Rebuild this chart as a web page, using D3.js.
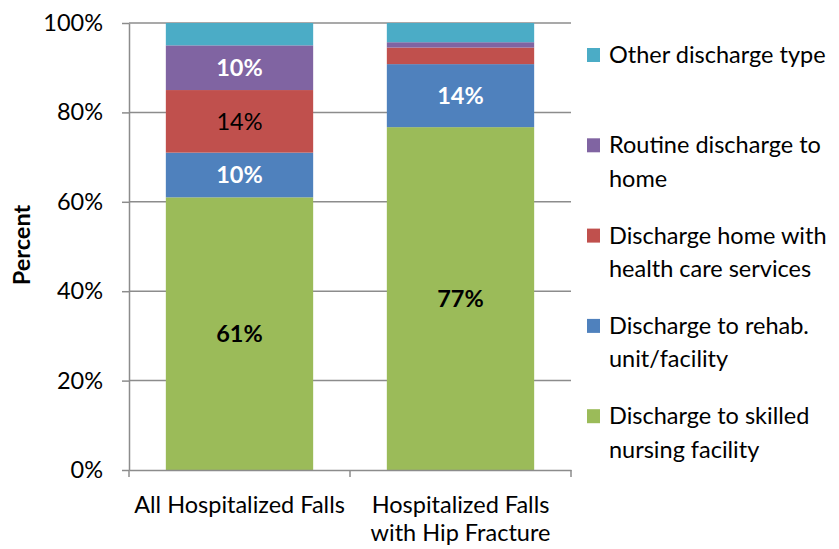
<!DOCTYPE html>
<html>
<head>
<meta charset="utf-8">
<script src="https://cdn.jsdelivr.net/npm/d3@7"></script>
<style>
  body { margin: 0; background: #fff; }
  svg text { font-family: Lato, "Open Sans", sans-serif; fill: #000; }
</style>
</head>
<body>
<svg id="chart" width="839" height="549"></svg>
<script>
// chart data
let categories = ["All Hospitalized Falls", "Hospitalized Falls with Hip Fracture"];
let seriesNames = [
    "Discharge to skilled nursing facility",
    "Discharge to rehab. unit/facility",
    "Discharge home with health care services",
    "Routine discharge to home",
    "Other discharge type"
];
// percent values per series, one per category (bottom of stack first)
let skilledNursing = [61, 76.7];
let rehab = [10, 14.1];
let homeHealth = [14, 3.7];
let routineHome = [10, 1.2];
let otherType = [5, 4.3];
let yTicks = [0, 20, 40, 60, 80, 100];

let seriesValues = [skilledNursing, rehab, homeHealth, routineHome, otherType];

// styles
let colors = ["#9BBB59", "#4F81BD", "#C0504D", "#8064A2", "#4BACC6"];
let labelFill = ["#000", "#fff", "#000", "#fff", "#fff"];
let labelWeight = ["bold", "bold", "normal", "bold", "bold"];

let plotLeft = 129, plotRight = 571, plotTop = 23, plotBottom = 470;
let fontSize = 23.5;

let table = categories.map((c, i) => {
    let row = { category: c };
    seriesNames.forEach((s, j) => row[s] = seriesValues[j][i]);
    return row;
});

let stacked = d3.stack().keys(seriesNames)(table);

let svg = d3.select('#chart');

let x = d3.scaleBand()
    .domain(categories)
    .range([plotLeft, plotRight])
    .paddingInner(1/3)
    .paddingOuter(1/6);

let y = d3.scaleLinear()
    .domain([0, 100])
    .range([plotBottom, plotTop]);

// gridlines
svg.append('g')
    .selectAll('line')
    .data(yTicks.slice(1))
    .enter().append('line')
        .attr('x1', plotLeft)
        .attr('x2', plotRight)
        .attr('y1', d => y(d))
        .attr('y2', d => y(d))
        .attr('stroke', '#8c8c8c')
        .attr('stroke-width', 1.5);

// bars
let layer = svg.selectAll('g.layer')
    .data(stacked).enter()
    .append('g')
        .attr('class', 'layer')
        .attr('fill', (d, i) => colors[i]);

layer.selectAll('rect')
    .data(d => d)
    .enter().append('rect')
        .attr('x', d => x(d.data.category))
        .attr('width', x.bandwidth())
        .attr('y', d => y(d[1]))
        .attr('height', d => y(d[0]) - y(d[1]));

// data labels (only segments of 10% or more are labelled)
stacked.forEach((s, i) => {
    svg.append('g').selectAll('text')
        .data(s.filter(d => d[1] - d[0] >= 10))
        .enter().append('text')
            .attr('x', d => x(d.data.category) + x.bandwidth()/2)
            .attr('y', d => y((d[0] + d[1])/2) + fontSize*0.36)
            .attr('text-anchor', 'middle')
            .style('font-size', fontSize + 'px')
            .style('font-weight', labelWeight[i])
            .style('fill', labelFill[i])
            .text(d => Math.round(d[1] - d[0]) + '%');
});

// y axis
let yAxis = svg.append('g')
    .attr('transform', `translate(${plotLeft},0)`)
    .call(d3.axisLeft(y)
        .tickValues(yTicks)
        .tickFormat(d => d + '%')
        .tickSize(7)
        .tickSizeOuter(0)
        .tickPadding(19));
yAxis.selectAll('path, line').attr('stroke', '#8c8c8c').attr('stroke-width', 1.5);
yAxis.selectAll('text')
    .style('font-size', fontSize + 'px')
    .style('font-family', 'Lato, sans-serif')
    .attr('fill', '#000');

// x axis
let xAxis = svg.append('g')
    .attr('transform', `translate(0,${plotBottom})`)
    .call(d3.axisBottom(x).tickSize(0).tickSizeOuter(0).tickPadding(26));
xAxis.select('path').attr('stroke', '#8c8c8c').attr('stroke-width', 1.5);
xAxis.selectAll('text')
    .style('font-size', fontSize + 'px')
    .style('font-family', 'Lato, sans-serif')
    .attr('fill', '#000')
    .attr('x', 0)
    .call(wrap, 218);

// category separators on the x axis
svg.append('g')
    .selectAll('line')
    .data(d3.range(categories.length + 1))
    .enter().append('line')
        .attr('x1', d => plotLeft + d*x.step())
        .attr('x2', d => plotLeft + d*x.step())
        .attr('y1', plotBottom)
        .attr('y2', plotBottom + 7)
        .attr('stroke', '#8c8c8c')
        .attr('stroke-width', 1.5);

// y axis title
svg.append('text')
    .attr('transform', 'translate(30,245) rotate(-90)')
    .attr('text-anchor', 'middle')
    .style('font-size', fontSize + 'px')
    .style('font-weight', 'bold')
    .text('Percent');

// legend (top entry is the top of the stack)
let legend = svg.append('g')
    .selectAll('g')
    .data(seriesNames.slice().reverse())
    .enter().append('g')
        .attr('transform', (d, i) => `translate(587,${48 + i*90.3})`);

legend.append('rect')
    .attr('width', 13)
    .attr('height', 14)
    .attr('fill', (d, i) => colors[colors.length - 1 - i]);

legend.append('text')
    .style('font-size', fontSize + 'px')
    .each(function (d) {
        let t = d3.select(this);
        let lines = d === "Other discharge type" ? [d] : splitLegend(d);
        lines.forEach((l, k) => {
            t.append('tspan')
                .attr('x', 22)
                .attr('y', 15 + k*33.5)
                .text(l);
        });
    });

function splitLegend(name) {
    let words = name.split(' ');
    let line1 = [], line2 = [];
    let limit = 21;
    words.forEach(w => {
        if (line2.length === 0 && (line1.concat([w]).join(' ')).length <= limit) line1.push(w);
        else line2.push(w);
    });
    return [line1.join(' '), line2.join(' ')].filter(s => s.length);
}

function wrap(text, width) {
    text.each(function () {
        var text = d3.select(this),
            words = text.text().split(/\s+/).reverse(),
            word,
            line = [],
            lineNumber = 0,
            lineHeight = 1.2,
            xx = text.attr("x"),
            yy = text.attr("y"),
            dy = parseFloat(text.attr("dy")),
            tspan = text.text(null)
                        .append("tspan")
                        .attr("x", xx)
                        .attr("y", yy)
                        .attr("dy", dy + "em");
        while (word = words.pop()) {
            line.push(word);
            tspan.text(line.join(" "));
            if (tspan.node().getComputedTextLength() > width) {
                line.pop();
                tspan.text(line.join(" "));
                line = [word];
                tspan = text.append("tspan")
                            .attr("x", xx)
                            .attr("y", yy)
                            .attr("dy", ++lineNumber * lineHeight + dy + "em")
                            .text(word);
            }
        }
    });
}
</script>
</body>
</html>
